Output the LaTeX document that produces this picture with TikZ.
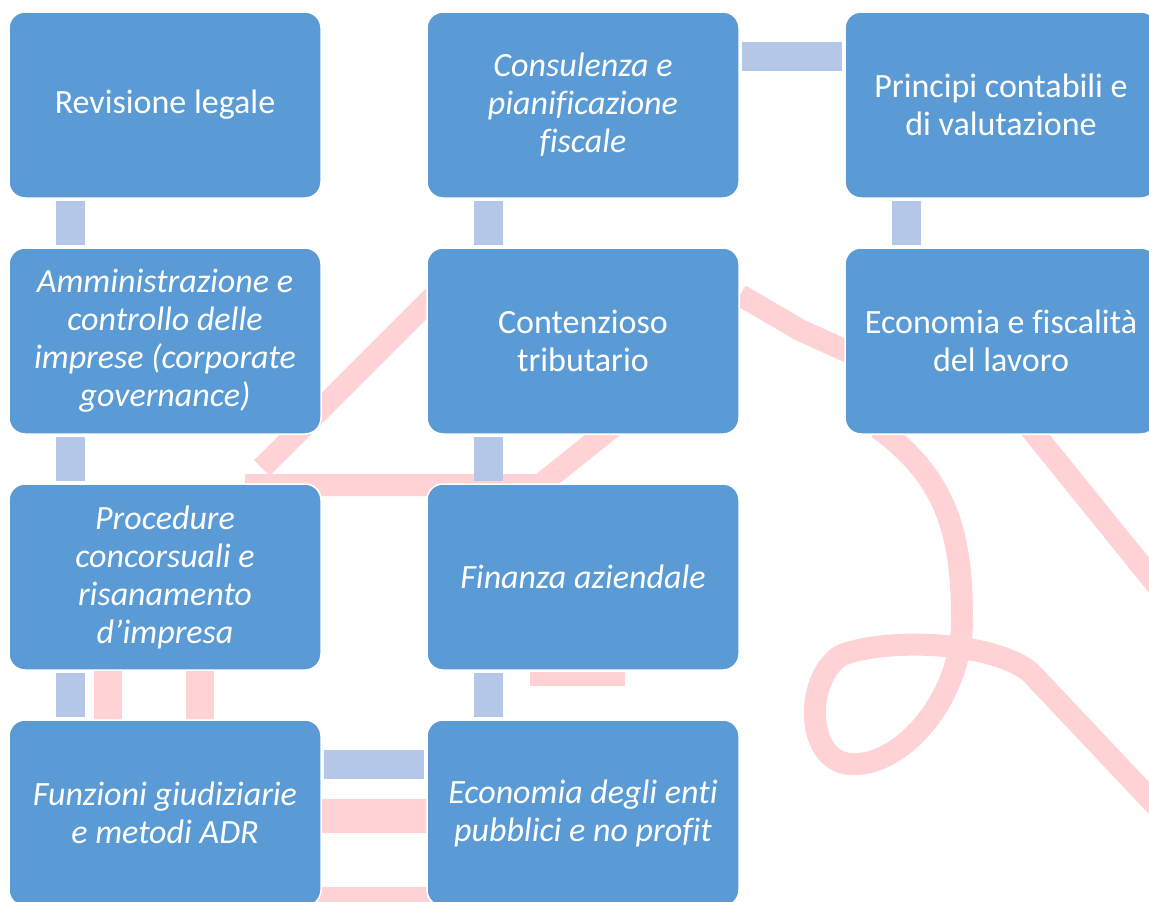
\documentclass[tikz,border=0pt]{standalone}
\usepackage{fontspec}
\setmainfont{Carlito}[Ligatures=NoCommon]
\usepackage{xcolor}
\usetikzlibrary{positioning}
\definecolor{boxblue}{HTML}{5B9BD5}
\definecolor{linkblue}{HTML}{B4C7E7}
\definecolor{wmpink}{HTML}{FFD3D6}

\begin{document}
\begin{tikzpicture}[x=1pt,y=-1pt,
every node/.style={align=center, text centered, text=white,
    font=\fontsize{34}{38}\selectfont},
area/.style={rectangle, rounded corners=16pt, fill=boxblue, draw=white,
    line width=1.5pt, minimum width=312pt, minimum height=186pt, inner sep=0pt},
areait/.style={area, font=\fontsize{34}{38}\selectfont\itshape},
link/.style={draw=linkblue, line width=29pt, shorten <=2pt, shorten >=2pt},
watermark/.style={draw=wmpink, line width=22pt}]
\useasboundingbox (0,0) rectangle (1149,902);
\clip (0,0) rectangle (1149,902);
\fill[white] (0,0) rectangle (1149,902);
% watermark behind the chart
\draw[watermark] (440,290) -- (262,468);
\draw[watermark] (245,485) -- (540,485) -- (615,425);
\draw[watermark] (740,295) -- (800,330) -- (855,355);
\draw[watermark] (878,428) .. controls (950,480) and (962,540) .. (962,620)
    .. controls (962,700) and (900,768) .. (850,764)
    .. controls (805,760) and (805,680) .. (840,656)
    .. controls (880,638) and (990,640) .. (1030,672) -- (1165,815);
\draw[watermark] (1030,428) -- (1165,595);
\draw[watermark, line width=28pt] (108,660) -- (108,730) (200,660) -- (200,730);
\draw[watermark, line width=34pt] (315,816) -- (435,816);
\draw[watermark, line width=18pt] (315,896) -- (435,896);
\draw[watermark, line width=14pt] (530,679) -- (625,679);
% first column
\node[area] (revisione) at (165,105) {Revisione legale};
\node[areait, below=48.5pt of revisione] (amministrazione)
    {Amministrazione e\\controllo delle\\imprese (corporate\\governance)};
\node[areait, below=48.5pt of amministrazione] (procedure)
    {Procedure\\concorsuali e\\risanamento\\d’impresa};
\node[areait, below=48.5pt of procedure] (funzioni)
    {Funzioni giudiziarie\\e metodi ADR};
% second column
\node[areait, right=104.5pt of revisione] (consulenza)
    {Consulenza e\\pianificazione\\fiscale};
\node[area, below=48.5pt of consulenza] (contenzioso) {Contenzioso\\tributario};
\node[areait, below=48.5pt of contenzioso] (finanza) {Finanza aziendale};
\node[areait, below=48.5pt of finanza] (entipubblici)
    {Economia degli enti\\pubblici e no profit};
% third column
\node[area, right=104.5pt of consulenza] (principi)
    {Principi contabili e\\di valutazione};
\node[area, below=48.5pt of principi] (lavoro)
    {Economia e fiscalità\\del lavoro};
% links
\draw[link] ([xshift=62pt]revisione.south west) -- ([xshift=62pt]amministrazione.north west);
\draw[link] ([xshift=62pt]amministrazione.south west) -- ([xshift=62pt]procedure.north west);
\draw[link] ([xshift=62pt]procedure.south west) -- ([xshift=62pt]funzioni.north west);
\draw[link] ([xshift=62pt]consulenza.south west) -- ([xshift=62pt]contenzioso.north west);
\draw[link] ([xshift=62pt]contenzioso.south west) -- ([xshift=62pt]finanza.north west);
\draw[link] ([xshift=62pt]finanza.south west) -- ([xshift=62pt]entipubblici.north west);
\draw[link] ([xshift=62pt]principi.south west) -- ([xshift=62pt]lavoro.north west);
\draw[link] ([yshift=-45pt]consulenza.north east) -- ([yshift=-45pt]principi.north west);
\draw[link] ([yshift=-45pt]funzioni.north east) -- ([yshift=-45pt]entipubblici.north west);
\end{tikzpicture}
\end{document}
